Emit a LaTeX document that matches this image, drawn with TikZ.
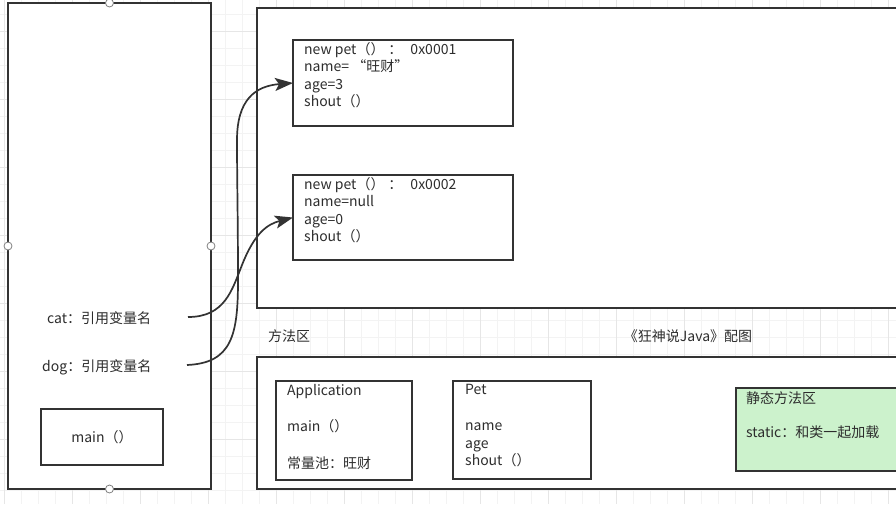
\documentclass[tikz,border=0pt]{standalone}
\usepackage{fontspec}
\setmainfont{Noto Sans CJK SC}
\usepackage{tikz}
\usetikzlibrary{positioning,arrows.meta}
\definecolor{linecolor}{RGB}{51,51,51}
\definecolor{textcolor}{RGB}{45,45,45}
\definecolor{staticcolor}{RGB}{204,242,204}
\definecolor{gridminor}{RGB}{243,243,243}
\definecolor{gridmajor}{RGB}{230,230,230}

\begin{document}
\begin{tikzpicture}[x=1pt,y=-1pt,
memarea/.style={
  draw=linecolor,
  line width=1.6pt,
  fill=white,
  inner sep=0pt,
  outer sep=0pt},
membox/.style={
  memarea,
  line width=1.5pt,
  text=textcolor,
  font=\fontsize{14}{17.5}\selectfont},
memtext/.style={
  inner sep=0pt,
  text=textcolor,
  align=left,
  font=\fontsize{14}{17.5}\selectfont},
ref/.style={
  draw=linecolor,
  line width=1.7pt,
  -{Stealth[length=18pt,width=13pt,inset=4pt]}},
handle/.style={
  circle,
  draw=gray,
  fill=white,
  line width=0.8pt,
  minimum size=8pt,
  inner sep=0pt},
]
\useasboundingbox (0,0) rectangle (896,504);
\clip (0,0) rectangle (896,504);

% background grid
\foreach \gx in {4,21,...,900} \draw[gridminor,line width=0.6pt] (\gx,0) -- (\gx,504);
\foreach \gy in {14,31,...,510} \draw[gridminor,line width=0.6pt] (0,\gy) -- (896,\gy);
\foreach \gx in {4,72,...,900} \draw[gridmajor,line width=0.6pt] (\gx,0) -- (\gx,504);
\foreach \gy in {31,99,...,510} \draw[gridmajor,line width=0.6pt] (0,\gy) -- (896,\gy);

% stack
\node[memarea,minimum width=203pt,minimum height=486pt] (STACK) at (109.5,246) {};
\node[handle] (HTOP) at (STACK.north) {};
\node[handle] (HLEFT) at (STACK.west) {};
\node[handle] (HRIGHT) at (STACK.east) {};
\node[handle] (HBOTTOM) at (STACK.south) {};
\node[memtext,anchor=west] (CATVAR) at (47,318) {cat：引用变量名};
\node[memtext,anchor=west] (DOGVAR) at (42,367) {dog：引用变量名};
\node[membox,minimum width=122pt,minimum height=56pt] (MAIN) at (102,437) {main（）};
\coordinate (CATREF) at (188,317);
\coordinate (DOGREF) at (187,365);

% heap
\node[memarea,minimum width=650pt,minimum height=300pt] (HEAP) at (582,158) {};
\node[membox,minimum width=220pt,minimum height=86pt] (PETA) at (403,83) {};
\node[memtext,below right=2pt and 11pt of PETA.north west] (PETATXT)
  {new pet（）\hspace{4pt}：\hspace{8pt}0x0001\\name=\ “旺财”\\age=3\\shout（）};
\node[membox,minimum width=220pt,minimum height=85pt] (PETB) at (403,217.5) {};
\node[memtext,below right=2pt and 11pt of PETB.north west] (PETBTXT)
  {new pet（）\hspace{4pt}：\hspace{8pt}0x0002\\name=null\\age=0\\shout（）};

% method area
\node[memtext,anchor=west] (METHODLBL) at (268,336) {方法区};
\node[memtext] (CAPTION) at (688,336) {《狂神说Java》配图};
\node[memarea,minimum width=650pt,minimum height=132pt] (METHOD) at (582,423) {};
\node[membox,minimum width=136pt,minimum height=99pt] (APPCLS) at (344,430.5) {};
\node[memtext,below right=3pt and 11pt of APPCLS.north west] (APPTXT)
  {Application\\[19pt]main（）\\[19pt]常量池：旺财};
\node[membox,minimum width=138pt,minimum height=98pt] (PETCLS) at (522,430) {};
\node[memtext,below right=3pt and 12pt of PETCLS.north west] (PETCLSTXT)
  {Pet\\[19pt]name\\age\\shout（）};
\node[membox,fill=staticcolor,minimum width=168pt,minimum height=83pt] (STATIC) at (820,429.5) {};
\node[memtext,below right=3pt and 10pt of STATIC.north west] (STATICTXT)
  {静态方法区\\[16.5pt]static：和类一起加载};

% references
\draw[ref] (CATREF) .. controls (225,317) and (232,290) .. (242,265)
  .. controls (255,232) and (268,224) .. (PETB.west);
\draw[ref] (DOGREF) .. controls (232,363) and (238,335) .. (238,280)
  .. controls (238,220) and (237,180) .. (237,140)
  .. controls (237,100) and (255,86) .. (PETA.west);
\end{tikzpicture}
\end{document}
